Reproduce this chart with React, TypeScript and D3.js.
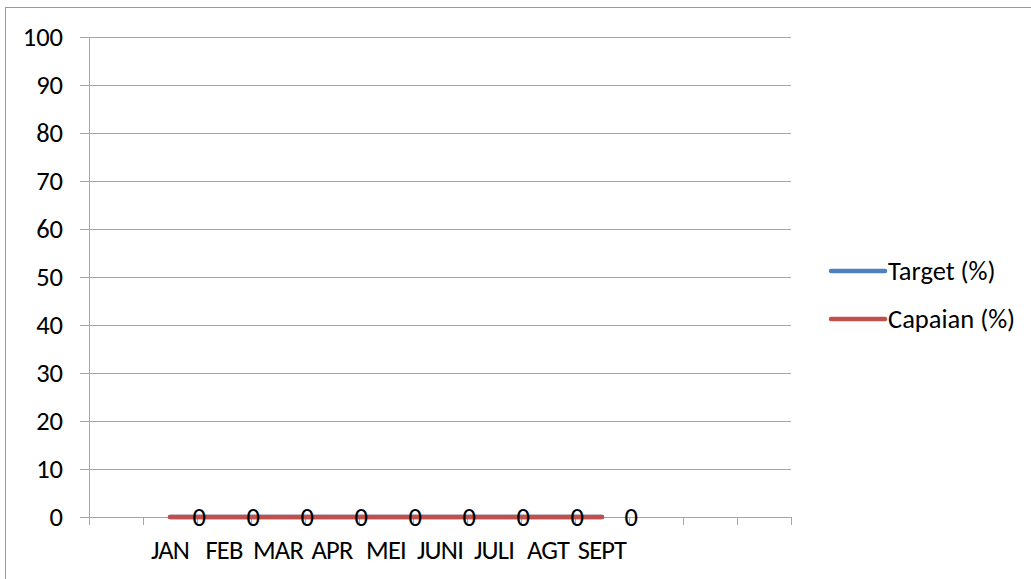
import React from "react";
import * as d3 from "d3";

const categories = ["", "JAN", "FEB", "MAR", "APR", "MEI", "JUNI", "JULI", "AGT", "SEPT", "", "", ""];
const targetValues: (number | null)[] = [null, 0, 0, 0, 0, 0, 0, 0, 0, 0, null, null, null];
const capaianValues: (number | null)[] = [null, 0, 0, 0, 0, 0, 0, 0, 0, 0, null, null, null];
const labelValues: (number | null)[] = [null, 0, 0, 0, 0, 0, 0, 0, 0, 0, null, null, null];
const yTicks = [0, 10, 20, 30, 40, 50, 60, 70, 80, 90, 100];
const seriesNames = ["Target (%)", "Capaian (%)"];
const seriesColors = ["#4f81bd", "#c0504d"];

const FONT = "Calibri, Carlito, Lato, sans-serif";
const FS = 26.5;

export default function App() {
  const W = 1031;
  const H = 579;
  const left = 89;
  const right = 791;
  const top = 37;
  const bottom = 517;

  const idx = d3.range(categories.length);
  const x = d3.scaleBand<number>().domain(idx).range([left, right]).paddingInner(0).paddingOuter(0);
  const y = d3.scaleLinear().domain([0, 100]).range([bottom, top]);
  const cx = (i: number) => (x(i) as number) + x.bandwidth() / 2;

  const line = d3
    .line<number | null>()
    .defined((d) => d !== null)
    .x((_, i) => cx(i))
    .y((d) => y(d as number));

  const boundaries = d3.range(categories.length + 1).map((i) => left + i * x.bandwidth());
  const seriesData = [targetValues, capaianValues];

  return (
    <>
      <style>{`body{margin:0}`}</style>
      <svg width={W} height={H} style={{ display: "block", background: "#fff" }}>
        <rect x={5.5} y={7.5} width={1200} height={800} fill="#fff" stroke="#9a9a9a" strokeWidth={1} />
        <g transform="translate(0,0.5)">
          {yTicks.map((t) => (
            <line key={t} x1={80} x2={right} y1={Math.round(y(t))} y2={Math.round(y(t))} stroke="#a6a6a6" strokeWidth={1} />
          ))}
        </g>
        <g transform="translate(0.5,0)">
          <line x1={left} x2={left} y1={top} y2={bottom + 8} stroke="#a6a6a6" strokeWidth={1} />
          {boundaries.map((b, i) => (
            <line key={i} x1={Math.round(b)} x2={Math.round(b)} y1={bottom} y2={bottom + 8} stroke="#a6a6a6" strokeWidth={1} />
          ))}
        </g>
        {yTicks.map((t) => (
          <text key={t} x={63} y={y(t)} textAnchor="end" dominantBaseline="central" fontFamily={FONT} fontSize={FS} fill="#000">
            {t}
          </text>
        ))}
        {categories.map((c, i) =>
          c ? (
            <text key={i} x={cx(i)} y={559} textAnchor="middle" fontFamily={FONT} fontSize={FS} fill="#000" letterSpacing={-0.8}>
              {c}
            </text>
          ) : null
        )}
        {seriesData.map((s, k) => (
          <path key={k} d={line(s) || ""} fill="none" stroke={seriesColors[k]} strokeWidth={4.5} strokeLinecap="round" />
        ))}
        {labelValues.map((v, i) =>
          v !== null ? (
            <text key={i} x={cx(i) + x.bandwidth() * 0.54} y={y(v)} textAnchor="middle" dominantBaseline="central" fontFamily={FONT} fontSize={FS} fill="#000">
              {v}
            </text>
          ) : null
        )}
        {seriesNames.map((n, k) => (
          <g key={n} transform={`translate(0,${271 + k * 48})`}>
            <line x1={831} x2={885} y1={0} y2={0} stroke={seriesColors[k]} strokeWidth={4.5} strokeLinecap="round" />
            <text x={888} y={0} dominantBaseline="central" fontFamily={FONT} fontSize={FS} fill="#000">
              {n}
            </text>
          </g>
        ))}
      </svg>
    </>
  );
}
